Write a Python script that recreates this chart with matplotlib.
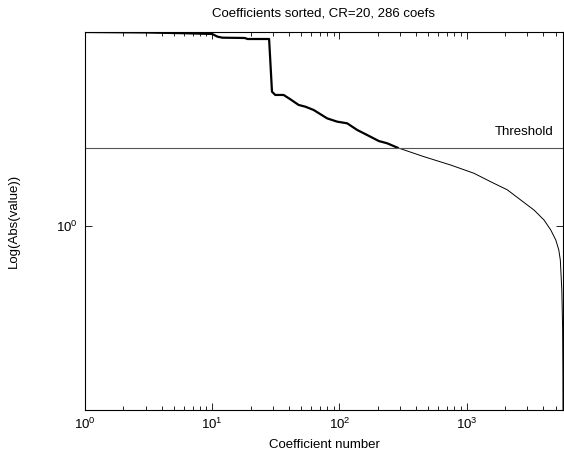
import matplotlib
matplotlib.use("Agg")
import matplotlib.pyplot as plt
from matplotlib.ticker import NullLocator, NullFormatter, LogLocator

plt.rcParams['font.family'] = ['Liberation Sans', 'DejaVu Sans']
plt.rcParams['mathtext.fontset'] = 'custom'
plt.rcParams['mathtext.rm'] = 'Liberation Sans'
plt.rcParams['mathtext.it'] = 'Liberation Sans:italic'

# Kept coefficients (thick curve), index -> |value|
kept_n = [1, 3, 6, 10, 11, 12, 18, 19, 28, 29.5, 31.3, 36.4, 41.1, 47.8, 54.0, 62.8,
          80.0, 95.9, 115, 138, 165, 204, 237, 286]
kept_v = [2.641, 2.635, 2.625, 2.615, 2.58, 2.567, 2.563, 2.550, 2.550, 1.959, 1.927,
          1.927, 1.886, 1.833, 1.817, 1.787, 1.714, 1.686, 1.672, 1.617, 1.577, 1.530,
          1.513, 1.480]

# Discarded coefficients (thin curve)
rest_n = [286, 461, 748, 1141, 1545, 2091, 2660, 3386, 4060, 4585, 5020, 5300, 5450,
          5598, 5680, 5710, 5720]
rest_v = [1.480, 1.415, 1.357, 1.302, 1.248, 1.198, 1.139, 1.083, 1.030, 0.980, 0.932,
          0.887, 0.843, 0.726, 0.60, 0.48, 0.398]

threshold = 1.48
n_total = 5720
title = "Coefficients sorted, CR=20, 286 coefs"

FS = 9.5

fig = plt.figure(figsize=(5.64, 4.55), dpi=100)
ax = fig.add_axes([85/564, 1-410/455, 478/564, 378/455])

ax.loglog(kept_n, kept_v, color='black', lw=1.6)
ax.loglog(rest_n, rest_v, color='black', lw=0.7)
ax.axhline(threshold, color='#555555', lw=0.8)
ax.text(4844, threshold * 1.051, "Threshold", ha='right', va='bottom', fontsize=FS)

ax.set_xlim(1, n_total)
ax.set_ylim(min(rest_v), max(kept_v))
ax.yaxis.set_major_locator(LogLocator(base=10, numticks=10))
ax.yaxis.set_minor_locator(NullLocator())
ax.yaxis.set_minor_formatter(NullFormatter())

ax.tick_params(which='both', direction='in', top=True, right=True, labelsize=FS)
ax.tick_params(which='major', length=5, width=0.6, pad=5)
ax.tick_params(which='minor', length=3, width=0.6)
for s in ax.spines.values():
    s.set_linewidth(0.8)

ax.set_title(title, fontsize=FS, pad=11)
ax.set_xlabel("Coefficient number", fontsize=FS, labelpad=5)
ax.set_ylabel("Log(Abs(value))", fontsize=FS, labelpad=26)

fig.savefig("out.png", dpi=100)
